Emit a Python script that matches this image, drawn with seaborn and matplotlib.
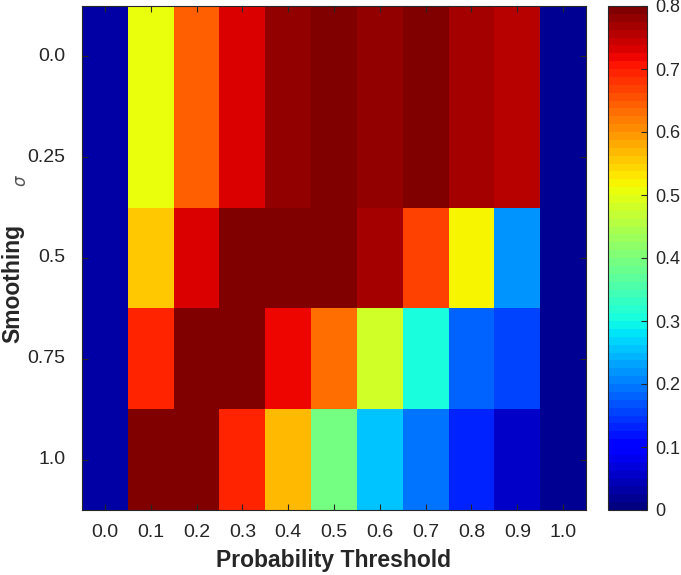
import numpy as np
import pandas as pd
import seaborn as sns
import matplotlib.pyplot as plt

# grid of results: rows = smoothing sigma, columns = probability threshold
thresholds = ["0.0", "0.1", "0.2", "0.3", "0.4", "0.5", "0.6", "0.7", "0.8", "0.9", "1.0"]
sigmas = ["0.0", "0.25", "0.5", "0.75", "1.0"]

row_000 = [0.026, 0.50, 0.64, 0.727, 0.787, 0.797, 0.787, 0.798, 0.767, 0.753, 0.013]
row_025 = [0.026, 0.50, 0.64, 0.727, 0.787, 0.797, 0.787, 0.798, 0.767, 0.753, 0.013]
row_050 = [0.026, 0.553, 0.727, 0.79, 0.8, 0.79, 0.767, 0.673, 0.515, 0.22, 0.013]
row_075 = [0.026, 0.69, 0.8, 0.8, 0.714, 0.632, 0.482, 0.305, 0.18, 0.155, 0.013]
row_100 = [0.026, 0.79, 0.8, 0.69, 0.567, 0.39, 0.25, 0.19, 0.125, 0.05, 0.013]

df = pd.DataFrame([row_000, row_025, row_050, row_075, row_100],
                  index=sigmas, columns=thresholds)

cbar_ticks = [0, 0.1, 0.2, 0.3, 0.4, 0.5, 0.6, 0.7, 0.8]
cbar_labels = ["0", "0.1", "0.2", "0.3", "0.4", "0.5", "0.6", "0.7", "0.8"]

plt.rcParams['font.family'] = ['Liberation Sans', 'DejaVu Sans']
text_col = "#262626"

fig = plt.figure(figsize=(6.81, 5.75), dpi=100)
ax = fig.add_axes([82 / 681, 1 - 510 / 575, 504 / 681, 504 / 575])
cax = fig.add_axes([608 / 681, 1 - 510 / 575, 39 / 681, 504 / 575])

cmap = plt.get_cmap('jet', 64)
sns.heatmap(df, ax=ax, cbar_ax=cax, cmap=cmap, vmin=0, vmax=0.8,
            cbar_kws={'ticks': cbar_ticks})

ax.set_xticklabels(thresholds, rotation=0)
ax.set_yticklabels(sigmas, rotation=0)
ax.tick_params(axis='both', direction='in', length=4, width=0.8, color=text_col,
               labelsize=14, labelcolor=text_col, top=True, right=True)
ax.tick_params(axis='y', pad=12)
ax.tick_params(axis='x', pad=10)
for s in ax.spines.values():
    s.set_visible(True)
    s.set_color(text_col)
    s.set_linewidth(0.8)

ax.set_xlabel("Probability Threshold", fontsize=16.5, fontweight='bold', color=text_col, labelpad=6)
ax.set_ylabel("Smoothing", fontsize=16.5, fontweight='bold', color=text_col)
# y label: x coord is the right side of the rotated text
ax.yaxis.set_label_coords(-0.115, 0.45)
fig.text(21 / 681, 1 - 181 / 575, r"$\sigma$", rotation=90, fontsize=12,
         color="#555555", ha='center', va='center')

cax.set_yticklabels(cbar_labels)
cax.tick_params(direction='in', length=4, width=0.8, color=text_col,
                labelsize=13, labelcolor=text_col, pad=6)
cbar = ax.collections[0].colorbar
cbar.outline.set_visible(True)
cbar.outline.set_edgecolor(text_col)
cbar.outline.set_linewidth(0.8)

fig.savefig("out.png", dpi=100)
